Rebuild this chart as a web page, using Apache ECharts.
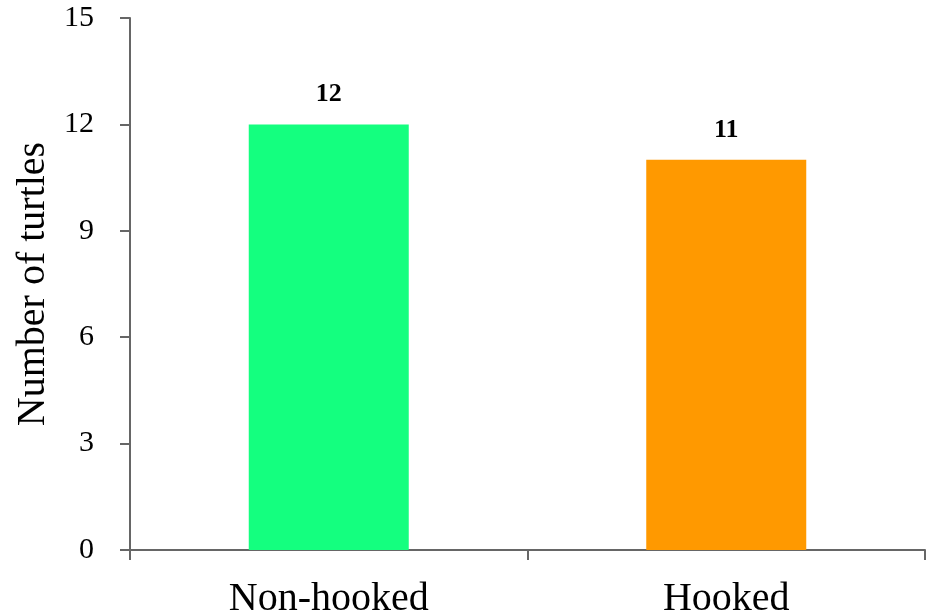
<!DOCTYPE html>
<html><head><meta charset="utf-8">
<script src="https://cdn.jsdelivr.net/npm/echarts@6/dist/echarts.min.js"></script>
<style>html,body{margin:0;padding:0;background:#fff}#c{width:929px;height:613px}</style>
</head><body><div id="c"></div>
<script>
const categories = ['Non-hooked', 'Hooked'];
const values = [12, 11];
const colors = ['#14FF7F', '#FF9900'];
const yTicks = [0, 3, 6, 9, 12, 15];

const chart = echarts.init(document.getElementById('c'));
chart.setOption({
  animation: false,
  grid: {left: 130, right: 4, top: 18, bottom: 63, outerBoundsMode: 'none', containLabel: false},
  xAxis: {
    type: 'category', data: categories,
    axisLine: {lineStyle: {color: '#666', width: 2}},
    axisTick: {show: true, length: 10, lineStyle: {color: '#666', width: 2}},
    axisLabel: {fontFamily: 'Liberation Serif', fontSize: 40, color: '#000', margin: 29}
  },
  yAxis: {
    type: 'value', min: 0, max: 15, interval: 3,
    name: 'Number of turtles', nameLocation: 'middle', nameGap: 72,
    nameTextStyle: {fontFamily: 'Liberation Serif', fontSize: 40, color: '#000'},
    axisLine: {show: true, lineStyle: {color: '#666', width: 2}},
    axisTick: {show: true, length: 10, lineStyle: {color: '#666', width: 2}},
    splitLine: {show: false},
    axisLabel: {fontFamily: 'Liberation Serif', fontSize: 30, color: '#000', margin: 36,
      formatter: v => yTicks.includes(v) ? String(v) : ''}
  },
  series: [{
    type: 'bar', barWidth: 160,
    data: values.map((v, i) => ({value: v, itemStyle: {color: colors[i]}})),
    label: {show: true, position: 'top', distance: 17, fontFamily: 'Liberation Serif',
      fontWeight: 'bold', fontSize: 26, color: '#000'}
  }]
});
</script></body></html>
